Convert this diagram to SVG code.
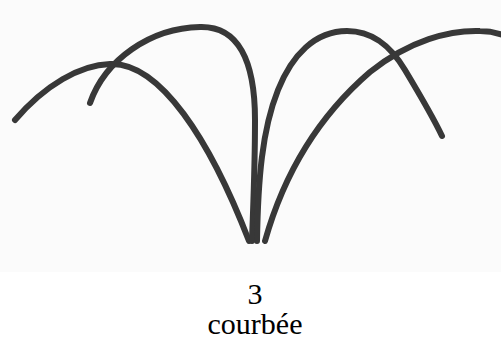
<svg xmlns="http://www.w3.org/2000/svg" width="501" height="345" viewBox="0 0 501 345">
<style>
.c{fill:none;stroke:#383838;stroke-width:6;stroke-linecap:round;stroke-linejoin:round}
.t{font-family:'Liberation Serif','Times New Roman','DejaVu Serif',serif;font-size:30px;fill:#000;text-anchor:middle}
</style>
<rect x="0" y="0" width="501" height="345" fill="#ffffff"/>
<rect x="0" y="0" width="501" height="272" fill="#fbfbfb"/>
<g id="curves">
<path id="curveA" class="c" d="M15,120 C45,85 80,65 110,64 C160,62 210,140 249,241"/>
<path id="curveB" class="c" d="M90,103 C105,60 150,28 200,27 C238,26 255,60 255,120 C255,170 253,210 252,241"/>
<path id="curveC" class="c" d="M257,241 C258,180 262,130 278,90 C292,55 315,31 347,31 C372,31 390,45 405,70 C420,95 432,115 442,136"/>
<path id="curveD" class="c" d="M265,241 C285,170 320,115 370,72 C410,40 450,30 480,31 C490,31 498,33 506,36"/>
</g>
<g id="caption">
<text class="t" x="255" y="304">3</text>
<text class="t" x="255" y="334">courbée</text>
</g>
</svg>
